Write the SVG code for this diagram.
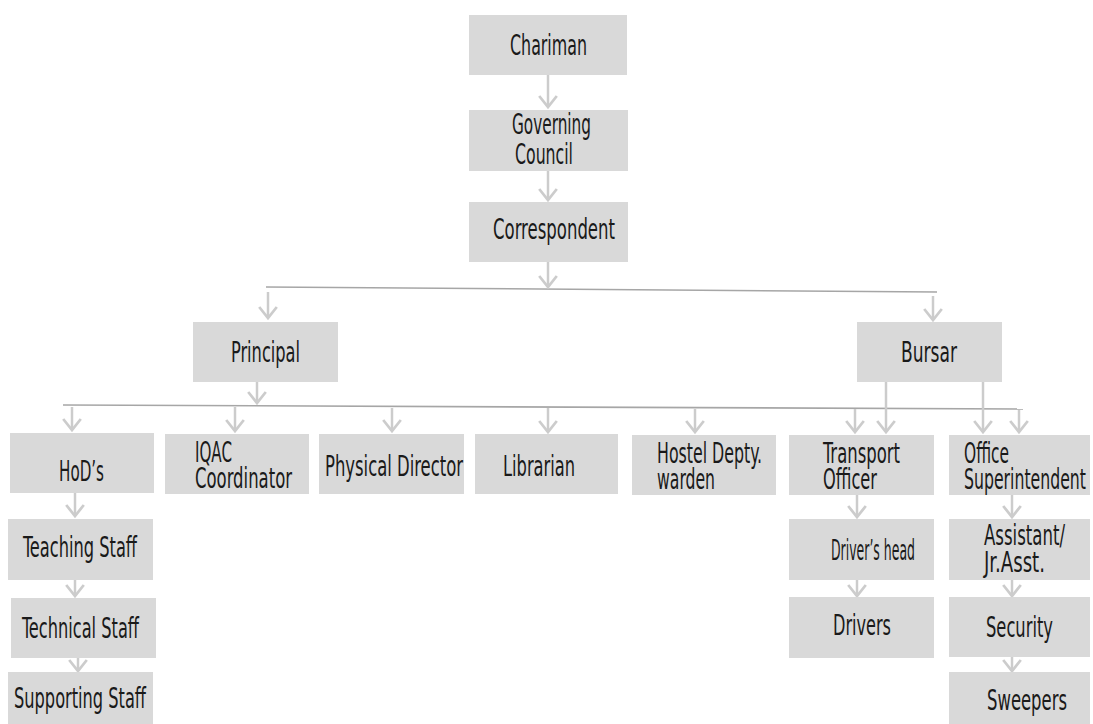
<svg xmlns="http://www.w3.org/2000/svg" width="1093" height="724" viewBox="0 0 1093 724">
<defs>
<marker id="ah" markerUnits="userSpaceOnUse" markerWidth="22" markerHeight="22" viewBox="-12 -10 14 20" refX="0" refY="0" orient="auto">
<path d="M-10,-8 L0,0 L-10,8" fill="none" stroke="#cccccc" stroke-width="2.5"/>
</marker>
</defs>
<style>
.box{fill:#d9d9d9}
.t{font-family:"Liberation Sans Narrow","DejaVu Sans Condensed","Liberation Sans",sans-serif;font-size:28px;fill:#1a1a1a}
.bar{stroke:#a6a6a6;stroke-width:1.6;fill:none}
.ar{stroke:#cccccc;stroke-width:2.5;fill:none;marker-end:url(#ah)}
</style>
<rect width="1093" height="724" fill="#ffffff"/>
<g id="connectors">
<line class="bar" x1="266" y1="287" x2="937" y2="292"/>
<line class="bar" x1="63" y1="405" x2="1023" y2="409"/>
<line class="ar" x1="548" y1="75" x2="548" y2="107"/>
<line class="ar" x1="548" y1="171" x2="548" y2="200"/>
<line class="ar" x1="548" y1="262" x2="548" y2="287"/>
<line class="ar" x1="268" y1="292" x2="268" y2="318"/>
<line class="ar" x1="933" y1="296" x2="933" y2="320"/>
<line class="ar" x1="257" y1="382" x2="257" y2="403"/>
<line class="ar" x1="72" y1="407" x2="72" y2="430"/>
<line class="ar" x1="235" y1="407" x2="235" y2="431"/>
<line class="ar" x1="392" y1="408" x2="392" y2="431"/>
<line class="ar" x1="548" y1="408" x2="548" y2="432"/>
<line class="ar" x1="695" y1="409" x2="695" y2="432"/>
<line class="ar" x1="855" y1="409" x2="855" y2="432"/>
<line class="ar" x1="1019" y1="410" x2="1019" y2="432"/>
<line class="ar" x1="886" y1="382" x2="886" y2="432"/>
<line class="ar" x1="983" y1="382" x2="983" y2="432"/>
<line class="ar" x1="75" y1="493" x2="75" y2="516"/>
<line class="ar" x1="75" y1="580" x2="75" y2="596"/>
<line class="ar" x1="78" y1="658" x2="78" y2="671"/>
<line class="ar" x1="857" y1="495" x2="857" y2="517"/>
<line class="ar" x1="857" y1="580" x2="857" y2="596"/>
<line class="ar" x1="1012" y1="495" x2="1012" y2="517"/>
<line class="ar" x1="1012" y1="580" x2="1012" y2="596"/>
<line class="ar" x1="1012" y1="657" x2="1012" y2="671"/>
</g>
<g id="chariman"><rect class="box" x="469" y="15" width="158" height="60"/><text class="t" x="510" y="55" textLength="77" lengthAdjust="spacingAndGlyphs">Chariman</text></g>
<g id="governing-council"><rect class="box" x="469" y="110" width="159" height="61"/><text class="t"><tspan x="512" y="134" textLength="79" lengthAdjust="spacingAndGlyphs">Governing</tspan><tspan x="515" y="164" textLength="58" lengthAdjust="spacingAndGlyphs">Council</tspan></text></g>
<g id="correspondent"><rect class="box" x="469" y="202" width="159" height="60"/><text class="t" x="493" y="239" textLength="122" lengthAdjust="spacingAndGlyphs">Correspondent</text></g>
<g id="principal"><rect class="box" x="193" y="322" width="145" height="60"/><text class="t" x="231" y="362" textLength="69" lengthAdjust="spacingAndGlyphs">Principal</text></g>
<g id="bursar"><rect class="box" x="857" y="322" width="145" height="60"/><text class="t" x="901" y="362" textLength="56" lengthAdjust="spacingAndGlyphs">Bursar</text></g>
<g id="hods"><rect class="box" x="10" y="433" width="144" height="60"/><text class="t" x="59" y="481" textLength="45" lengthAdjust="spacingAndGlyphs">HoD’s</text></g>
<g id="iqac"><rect class="box" x="165" y="434" width="144" height="60"/><text class="t"><tspan x="195" y="462" textLength="37" lengthAdjust="spacingAndGlyphs">IQAC</tspan><tspan x="195" y="488" textLength="97" lengthAdjust="spacingAndGlyphs">Coordinator</tspan></text></g>
<g id="physical-director"><rect class="box" x="319" y="434" width="145" height="60"/><text class="t" x="325" y="476" textLength="138" lengthAdjust="spacingAndGlyphs">Physical Director</text></g>
<g id="librarian"><rect class="box" x="475" y="434" width="143" height="60"/><text class="t" x="503" y="476" textLength="72" lengthAdjust="spacingAndGlyphs">Librarian</text></g>
<g id="hostel"><rect class="box" x="632" y="435" width="144" height="60"/><text class="t"><tspan x="657" y="463" textLength="105" lengthAdjust="spacingAndGlyphs">Hostel Depty.</tspan><tspan x="657" y="489" textLength="58" lengthAdjust="spacingAndGlyphs">warden</tspan></text></g>
<g id="transport"><rect class="box" x="789" y="435" width="145" height="60"/><text class="t"><tspan x="823" y="463" textLength="77" lengthAdjust="spacingAndGlyphs">Transport</tspan><tspan x="823" y="489" textLength="54" lengthAdjust="spacingAndGlyphs">Officer</tspan></text></g>
<g id="office"><rect class="box" x="949" y="435" width="141" height="60"/><text class="t"><tspan x="964" y="463" textLength="45" lengthAdjust="spacingAndGlyphs">Office</tspan><tspan x="964" y="489" textLength="122" lengthAdjust="spacingAndGlyphs">Superintendent</tspan></text></g>
<g id="teaching"><rect class="box" x="8" y="519" width="145" height="61"/><text class="t" x="23" y="557" textLength="114" lengthAdjust="spacingAndGlyphs">Teaching Staff</text></g>
<g id="technical"><rect class="box" x="11" y="598" width="145" height="60"/><text class="t" x="22" y="638" textLength="117" lengthAdjust="spacingAndGlyphs">Technical Staff</text></g>
<g id="supporting"><rect class="box" x="8" y="672" width="145" height="52"/><text class="t" x="14" y="708" textLength="132" lengthAdjust="spacingAndGlyphs">Supporting Staff</text></g>
<g id="drivers-head"><rect class="box" x="789" y="519" width="145" height="61"/><text class="t" x="831" y="560" textLength="84" lengthAdjust="spacingAndGlyphs">Driver’s head</text></g>
<g id="drivers"><rect class="box" x="789" y="597" width="145" height="61"/><text class="t" x="833" y="635" textLength="58" lengthAdjust="spacingAndGlyphs">Drivers</text></g>
<g id="assistant"><rect class="box" x="949" y="519" width="141" height="61"/><text class="t"><tspan x="984" y="545" textLength="81" lengthAdjust="spacingAndGlyphs">Assistant/</tspan><tspan x="984" y="572" textLength="61" lengthAdjust="spacingAndGlyphs">Jr.Asst.</tspan></text></g>
<g id="security"><rect class="box" x="949" y="597" width="141" height="60"/><text class="t" x="986" y="637" textLength="67" lengthAdjust="spacingAndGlyphs">Security</text></g>
<g id="sweepers"><rect class="box" x="949" y="672" width="141" height="52"/><text class="t" x="987" y="710" textLength="80" lengthAdjust="spacingAndGlyphs">Sweepers</text></g>
</svg>
